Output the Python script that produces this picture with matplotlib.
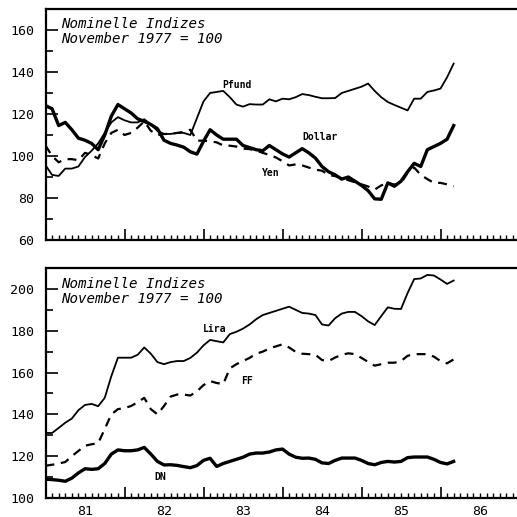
import matplotlib
matplotlib.use("Agg")
import matplotlib.pyplot as plt
import matplotlib.transforms as mtransforms
import numpy as np

# monthly data, Jan 1981 .. Mar 1986
start_year = 1981
pfund = [95.6, 91, 90.5, 94, 94, 95, 99.5, 102.5, 106, 111, 116, 118.5,
         117, 116, 116, 117.5, 115, 112, 110.5, 110.5, 111, 111, 110, 118,
         126, 130, 130.5, 131, 128, 124.5, 123.5, 124.7, 124.5, 124.5, 127, 126,
         127.3, 127, 128, 129.5, 129, 128.2, 127.5, 127.5, 127.6, 130, 131, 132,
         133, 134.5, 131, 128, 125.7, 124.3, 123, 121.7, 127.3, 127.3, 130.5, 131.2,
         132.1, 137.5, 144]
dollar = [124, 122.5, 114.5, 116, 112.5, 108.5, 107.5, 106, 103, 110, 119, 124.5,
          122.5, 120.5, 117.7, 116.5, 115, 113, 107.5, 106, 105.2, 104.2, 102, 100.9,
          107, 112.5, 110, 108, 108, 108, 105, 104, 103, 102.5, 105, 103,
          101, 99.5, 101.5, 103.5, 101.5, 99, 95, 92.5, 91, 89, 90, 88,
          86, 83.5, 79.6, 79.4, 87.2, 85.6, 88, 92.5, 96.5, 95, 103, 104.5,
          106, 108, 114.5]
yen = [105, 100, 97, 98.5, 98.5, 98, 101.5, 100.5, 98.8, 106, 111, 112.5,
       110, 111, 113.5, 116.5, 112, 110, 110.5, 110.5, 111, 111.5, 112.5, 107.3,
       107.3, 107, 106.5, 105, 104.9, 104.5, 103.5, 103.3, 102.5, 101.5, 100.5, 99.3,
       97.5, 95.5, 96, 95.5, 94.5, 93.5, 93, 91, 90.4, 89.5, 88.5, 87.5,
       86.5, 85.5, 84, 86, 87.2, 86.4, 87, 92, 94.5, 91, 89, 87.2,
       87.2, 86.5, 85.6]
lira = [131.1, 131.1, 133.5, 136, 138, 142, 144.5, 145, 143.9, 147.9, 158.3, 167.1,
        167.1, 167.1, 168.5, 172, 169, 165, 164, 165, 165.5, 165.5, 167, 169.5,
        173, 175.6, 175, 174.4, 178.4, 179.5, 181, 183, 185.5, 187.5, 188.5, 189.5,
        190.5, 191.5, 190, 188.5, 188.2, 187.5, 183, 182.5, 186, 188.2, 189, 189,
        187, 184.5, 182.7, 187, 191.2, 190.5, 190.4, 198, 204.7, 205, 206.7, 206.4,
        204.5, 202.4, 204]
ff = [115.4, 115.9, 116.5, 117.2, 120, 122.5, 125, 125.7, 126.2, 133, 140, 142.5,
      143, 144, 145.8, 147.9, 142.5, 140, 144, 148.5, 149.5, 149.5, 149, 151,
      154, 155.9, 155, 154.5, 162, 164, 165.5, 167, 169, 170, 171.5, 172.5,
      173.5, 172, 169.9, 169, 168.8, 168.5, 166, 165.5, 167.2, 168.5, 169.2, 168.8,
      167, 165.1, 163.3, 164, 164.7, 164.7, 165.5, 168, 168.8, 168.8, 168.8, 167.6,
      165.5, 164.4, 166.3]
dm = [109, 108.8, 108.5, 108, 109.5, 112, 114, 113.7, 114, 116.5, 121, 123,
      122.6, 122.6, 123, 124.2, 121, 117.5, 115.8, 115.9, 115.6, 115, 114.5, 115.5,
      118, 119, 115.1, 116.5, 117.5, 118.5, 119.5, 121, 121.5, 121.5, 122, 123,
      123.4, 121, 119.5, 119, 119.1, 118.5, 116.8, 116.5, 118, 119.1, 119.1, 119.1,
      118, 116.5, 115.9, 117, 117.5, 117.2, 117.5, 119.3, 119.6, 119.6, 119.6, 118.5,
      117, 116.3, 117.5]
year_labels = ["81", "82", "83", "84", "85", "86"]
title_text = "Nominelle Indizes\nNovember 1977 = 100"

t = start_year + np.arange(len(pfund)) / 12.0

W = 517
fig = plt.figure(figsize=(5.17, 5.17), dpi=100)
mono = "DejaVu Sans Mono"

def px(x0, y0, x1, y1):
    return [x0 / W, 1 - y1 / W, (x1 - x0) / W, (y1 - y0) / W]

ax1 = fig.add_axes(px(45.5, 9, 519.5, 240))
ax2 = fig.add_axes(px(45.5, 268, 519.5, 498))

def style(ax, ylim, yticks):
    ax.set_xlim(1981, 1987)
    ax.set_ylim(*ylim)
    ax.set_xticks(np.arange(1981, 1988))
    ax.set_xticks(np.arange(1981, 1987.01, 1 / 12.0), minor=True)
    ax.set_xticklabels([])
    ax.set_yticks(yticks)
    ax.set_yticks(np.arange(ylim[0], ylim[1] + 0.1, 10), minor=True)
    ax.set_yticklabels([str(v) for v in yticks], fontfamily=mono, fontsize=9.5)
    ax.tick_params(axis="x", which="major", direction="in", length=8, width=1.2, top=False)
    ax.tick_params(axis="x", which="minor", direction="in", length=3.5, width=1.0, top=False)
    ax.tick_params(axis="y", which="major", direction="in", length=8.5, width=1.2, pad=8, right=False)
    ax.tick_params(axis="y", which="minor", direction="in", length=5, width=1.2, right=False)
    for s in ["left", "bottom", "top"]:
        ax.spines[s].set_linewidth(1.6)
    ax.spines["right"].set_visible(False)

style(ax1, (60, 170), [60, 80, 100, 120, 140, 160])
style(ax2, (100, 210), [100, 120, 140, 160, 180, 200])

ax1.plot(t, pfund, color="black", lw=1.3)
ax1.plot(t, dollar, color="black", lw=2.4)
ax1.plot(t, yen, color="black", lw=1.6, dashes=(4, 3))

ax2.plot(t, lira, color="black", lw=1.3)
ax2.plot(t, ff, color="black", lw=1.6, dashes=(4, 3))
ax2.plot(t, dm, color="black", lw=2.4)

for ytop in (17, 277):
    fig.text(61 / W, 1 - ytop / W, title_text, fontfamily=mono, fontstyle="italic",
             fontsize=10.2, va="top", ha="left", linespacing=1.05)

labels = [("Pfund", 237, 85), ("Dollar", 320, 137), ("Yen", 271, 173),
          ("Lira", 215, 329), ("FF", 247, 381), ("DN", 160, 477)]
for txt, x, y in labels:
    fig.text(x / W, 1 - y / W, txt, fontfamily=mono, fontweight="bold",
             fontsize=7, ha="center", va="center")

trans = mtransforms.blended_transform_factory(ax2.transData, fig.transFigure)
for k, lab in enumerate(year_labels):
    ax2.text(start_year + k + 0.5, 1 - 505 / W, lab, transform=trans,
             fontfamily=mono, fontsize=9.5, ha="center", va="top")

fig.savefig("out.png", dpi=100)
